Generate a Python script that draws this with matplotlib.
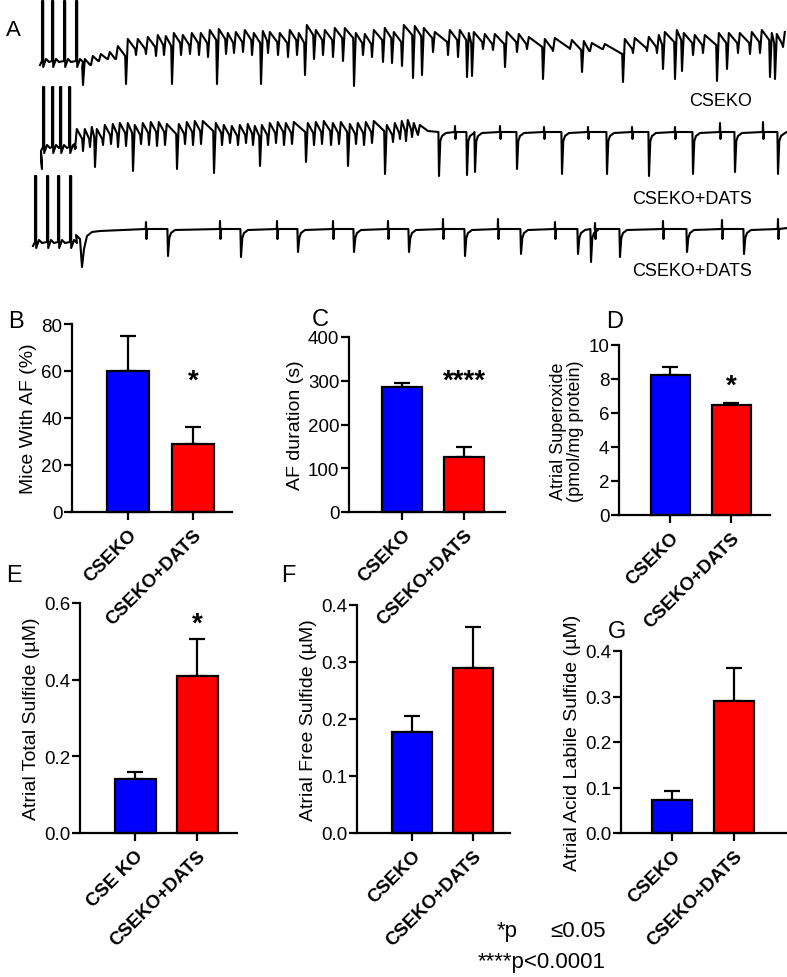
import numpy as np
import matplotlib
matplotlib.use("Agg")
import matplotlib.pyplot as plt

plt.rcParams['font.family'] = ['Liberation Sans', 'DejaVu Sans']

W, H = 787, 978
BLUE, RED = '#0000ff', '#ff0000'

# ---- panel A: ECG traces (time ~ px, level ~ px, y down) ----
# stimulus pulses: x positions
STIM1 = [42, 52, 64, 76]
STIM2 = [43, 52, 60, 69]
STIM3 = [35, 47, 58, 70]

# trace 1 (AF): beats as (time, trough, following peak)
BEATS1 = [(83, 86, 60), (91, 66, 57), (99, 62, 55), (108, 60, 53), (116, 60, 47),
          (126, 85, 40), (136, 56, 40), (146, 55, 38), (156, 57, 36), (164, 56, 37),
          (172, 85, 34), (181, 56, 36), (190, 55, 34), (199, 56, 34), (208, 58, 31),
          (217, 85, 30), (226, 55, 34), (234, 54, 33), (243, 53, 31), (252, 56, 34),
          (261, 85, 32), (268, 54, 33), (278, 56, 34), (288, 58, 31), (297, 56, 34),
          (305, 76, 26), (314, 60, 31), (323, 56, 31), (333, 58, 29), (343, 62, 29),
          (354, 87, 34), (363, 56, 35), (372, 58, 31), (383, 63, 29), (392, 64, 33),
          (402, 67, 26), (413, 79, 27), (422, 76, 29), (433, 53, 33), (448, 56, 31),
          (458, 58, 31), (467, 78, 34), (472, 77, 33), (483, 50, 35), (493, 51, 35),
          (505, 68, 33), (517, 53, 35), (527, 50, 38), (543, 80, 40), (553, 52, 39),
          (570, 50, 41), (582, 73, 42), (590, 52, 44), (603, 50, 45), (623, 83, 40),
          (633, 54, 39), (647, 52, 38), (657, 54, 36), (663, 70, 33), (675, 80, 31),
          (682, 72, 34), (693, 56, 36), (703, 54, 36), (717, 82, 34), (727, 70, 34),
          (738, 54, 34), (750, 55, 33), (760, 54, 31), (770, 78, 34), (775, 80, 35),
          (783, 48, 33)]

# trace 2: AF part then regular rhythm
BEATS2 = [(75, 150, 130), (83, 152, 130), (90, 148, 128), (95, 168, 130), (103, 146, 126),
          (111, 145, 125), (118, 148, 124), (126, 147, 124), (133, 172, 126), (141, 145, 124),
          (149, 146, 123), (157, 147, 123), (165, 146, 125), (177, 170, 125), (185, 145, 123),
          (193, 146, 122), (201, 145, 122), (214, 174, 124), (222, 146, 126), (230, 144, 127),
          (238, 146, 126), (246, 144, 125), (253, 146, 127), (260, 167, 126), (268, 146, 124),
          (276, 144, 123), (284, 146, 124), (292, 145, 123), (306, 163, 124), (314, 146, 123),
          (322, 145, 122), (331, 146, 124), (339, 145, 123), (348, 167, 125), (356, 145, 124),
          (364, 146, 123), (372, 144, 122), (385, 175, 126), (393, 143, 124), (400, 140, 122),
          (406, 142, 121), (412, 138, 124), (418, 136, 126)]
SPK2 = [(439, 177), (467, 176), (475, 173), (517, 170), (562, 175), (607, 175),
        (649, 177), (693, 175), (735, 173), (778, 175)]
P2 = [(455, 127), (500, 127), (544, 128), (588, 128), (632, 128), (675, 128),
      (720, 124), (763, 123)]

# trace 3: regular rhythm
SPK3 = [(168, 257), (241, 258), (298, 253), (354, 253), (409, 253), (465, 257),
        (521, 255), (578, 255), (591, 263), (620, 258), (687, 253), (744, 255)]
P3 = [(146, 223), (220, 222), (277, 222), (333, 222), (388, 222), (443, 220),
      (498, 220), (555, 223), (595, 224), (663, 222), (722, 221), (778, 220)]

# ---- bar panels ----
GROUPS = ['CSEKO', 'CSEKO+DATS']
GROUPS_E = ['CSE KO', 'CSEKO+DATS']
AF_PCT = [60, 29];          AF_PCT_ERR = [15, 7]
AF_DUR = [285, 125];        AF_DUR_ERR = [10, 23]
SUPEROX = [8.25, 6.5];      SUPEROX_ERR = [0.45, 0.1]
TOTAL_S = [0.14, 0.41];     TOTAL_S_ERR = [0.018, 0.095]
FREE_S = [0.178, 0.29];     FREE_S_ERR = [0.028, 0.072]
ACID_S = [0.072, 0.29];     ACID_S_ERR = [0.02, 0.072]

fig = plt.figure(figsize=(W / 100, H / 100), dpi=100)


def add_ax(l, t, r, b):
    return fig.add_axes([l / W, 1 - b / H, (r - l) / W, (b - t) / H])


def stim_part(xs, top, bot):
    px, py = [xs[0] - 2], [bot + 4]
    for x in xs:
        px += [x, x, x + 1.2, x + 1.2, x + 4, x + 7]
        py += [bot, top, top, bot + 6, bot - 2, bot + 1]
    return px, py


def saw_part(beats, start_pk):
    px, py = [], []
    prev = start_pk
    for x, tr, pk in beats:
        px += [x - 0.8, x, x + 1.8]
        py += [min(tr, prev + 10), tr, pk]
        prev = pk
    return px, py


def regular_part(spikes, pw, base, notch):
    ev = [(x, 's', v) for x, v in spikes] + [(x, 'p', v) for x, v in pw]
    px, py = [], []
    for x, kind, v in sorted(ev):
        if kind == 's':
            px += [x - 0.6, x, x + 1.3, x + 3, x + 7]
            py += [base, v, base + 9, base + 4, base + 1]
        else:
            px += [x - 0.3, x, x + 0.5, x + 1.2]
            py += [base, v, notch, base]
    return px, py


axt = add_ax(0, 0, W, 285)
axt.set_xlim(0, W); axt.set_ylim(285, 0); axt.axis('off')

# trace 1
x1, y1 = stim_part(STIM1, 2, 62)
sx, sy = saw_part(BEATS1, 58)
axt.plot(x1 + sx, y1 + sy, color='black', lw=1.5, solid_joinstyle='round')

# trace 2
x2, y2 = stim_part(STIM2, 88, 148)
x2 = [41, 42] + x2; y2 = [155, 170] + y2
sx, sy = saw_part(BEATS2, 135)
rx, ry = regular_part(SPK2, P2, 133, 140)
axt.plot(x2 + sx + [428] + rx + [787], y2 + sy + [132] + ry + [133],
         color='black', lw=1.5, solid_joinstyle='round')

# trace 3
x3, y3 = stim_part(STIM3, 177, 243)
x3 = x3 + [76, 80, 82, 84, 87, 92, 100]
y3 = y3 + [236, 240, 268, 250, 237, 233, 232]
rx, ry = regular_part(SPK3, P3, 230, 240)
axt.plot(x3 + rx + [787], y3 + ry + [229], color='black', lw=1.5, solid_joinstyle='round')

axt.text(752, 102, 'CSEKO', ha='right', va='center', fontsize=13)
axt.text(752, 200, 'CSEKO+DATS', ha='right', va='center', fontsize=13)
axt.text(752, 271, 'CSEKO+DATS', ha='right', va='center', fontsize=13)
fig.text(6 / W, 1 - 30 / H, 'A', fontsize=16, va='center', ha='left')


def bar_panel(box, cx, bw, vals, errs, ymax, step, fmt, ylabel, labels,
              letter, lxy, star=None, star_y=None, ylsize=14):
    l, t, r, b = box
    ax = add_ax(l, t, r, b)
    ax.bar(cx, vals, width=bw, color=[BLUE, RED], edgecolor='black', linewidth=1.6, zorder=2)
    ax.errorbar(cx, vals, yerr=[[0, 0], errs], fmt='none', ecolor='black',
                elinewidth=1.6, capsize=5.5, capthick=1.6, zorder=1)
    ax.set_xlim(l, r)
    ax.set_ylim(0, ymax)
    ticks = np.arange(0, ymax + step / 2, step)
    ax.set_yticks(ticks)
    ax.set_yticklabels([fmt.format(v) for v in ticks])
    ax.set_xticks(cx)
    ax.set_xticklabels(labels, rotation=45, ha='right', rotation_mode='anchor',
                       fontweight='bold', fontsize=12)
    for s in ['top', 'right']:
        ax.spines[s].set_visible(False)
    for s in ['left', 'bottom']:
        ax.spines[s].set_linewidth(1.6)
    ax.tick_params(direction='out', length=6, width=1.6, labelsize=13.5, pad=1)
    ax.tick_params(axis='x', pad=4)
    ax.set_ylabel(ylabel, fontsize=ylsize, labelpad=3, linespacing=1.0)
    ax.patch.set_alpha(0)
    for c in ax.get_children():
        c.set_clip_on(False)
    if star:
        ax.text(cx[1], star_y, star, ha='center', va='center', fontsize=20, fontweight='bold')
    fig.text(lxy[0] / W, 1 - lxy[1] / H, letter, fontsize=17, ha='left', va='center')
    return ax


bar_panel((72, 325, 232, 513), [128, 193], 42, AF_PCT, AF_PCT_ERR, 80, 20, '{:.0f}',
          'Mice With AF (%)', GROUPS, 'B', (8, 322), '*', 56)
bar_panel((349, 338, 505, 513), [402, 464], 40, AF_DUR, AF_DUR_ERR, 400, 100, '{:.0f}',
          'AF duration (s)', GROUPS, 'C', (312, 320), '****', 300)
bar_panel((619, 346, 770, 516), [670, 731], 39, SUPEROX, SUPEROX_ERR, 10, 2, '{:.0f}',
          'Atrial Superoxide\n(pmol/mg protein)', GROUPS, 'D', (606, 322), '*', 7.6,
          ylsize=13)
bar_panel((80, 604, 237, 834), [135, 197], 41, TOTAL_S, TOTAL_S_ERR, 0.6, 0.2, '{:.1f}',
          'Atrial Total Sulfide (µM)', GROUPS_E, 'E', (6, 576), '*', 0.545)
bar_panel((357, 606, 510, 834), [412, 473], 40, FREE_S, FREE_S_ERR, 0.4, 0.1, '{:.1f}',
          'Atrial Free Sulfide (µM)', GROUPS, 'F', (281, 576))
bar_panel((621, 652, 787, 834), [672, 734], 40, ACID_S, ACID_S_ERR, 0.4, 0.1, '{:.1f}',
          'Atrial Acid Labile Sulfide (µM)', GROUPS, 'G', (608, 632))

fig.text(497 / W, 1 - 932 / H, '*p', fontsize=16, ha='left', va='center')
fig.text(606 / W, 1 - 932 / H, '\u22640.05', fontsize=16, ha='right', va='center')
fig.text(606 / W, 1 - 963 / H, '****p<0.0001', fontsize=16, ha='right', va='center')

fig.savefig('out.png', dpi=100)
